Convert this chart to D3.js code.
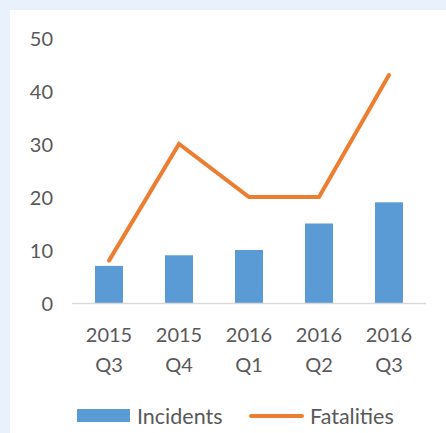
<!DOCTYPE html>
<html>
<head>
<meta charset="utf-8">
<script src="https://cdn.jsdelivr.net/npm/d3@7"></script>
<style>
  body { margin: 0; background: #fff; }
  text { font-family: Lato, "Open Sans", sans-serif; fill: #595959; }
</style>
</head>
<body>
<div id="chart"></div>
<script>
var years = ["2015", "2015", "2016", "2016", "2016"],
    quarters = ["Q3", "Q4", "Q1", "Q2", "Q3"],
    incidents = [7, 9, 10, 15, 19],
    fatalities = [8, 30, 20, 20, 43],
    yTicks = [0, 10, 20, 30, 40, 50];

var width = 446,
    height = 433,
    margin = {top: 38, right: 22, bottom: 130, left: 74},
    plotW = width - margin.left - margin.right,
    plotH = height - margin.top - margin.bottom;

var idx = d3.range(years.length);

var svg = d3.select("#chart").append("svg")
    .attr("width", width)
    .attr("height", height);

// light frame on the top and left
svg.append("rect")
    .attr("width", width).attr("height", height)
    .attr("fill", "#e9f2fc");
svg.append("rect")
    .attr("x", 10).attr("y", 10)
    .attr("width", width - 10).attr("height", height - 10)
    .attr("fill", "#fff");

var x = d3.scaleBand()
    .domain(idx)
    .range([0, plotW])
    .paddingInner(0.6)
    .paddingOuter(0.3);

var y = d3.scaleLinear()
    .domain([0, 50])
    .range([plotH, 0]);

var g = svg.append("g")
    .attr("transform", "translate(" + margin.left + "," + margin.top + ")");

// y labels
g.selectAll("text.y_label")
  .data(yTicks)
  .enter().append("text")
    .attr("class", "y_label")
    .attr("x", -21)
    .attr("y", function (d) { return y(d); })
    .attr("dy", "0.38em")
    .attr("text-anchor", "end")
    .style("font-size", "20px")
    .text(function (d) { return d; });

// bars
g.selectAll("rect.bar")
  .data(incidents)
  .enter().append("rect")
    .attr("class", "bar")
    .attr("x", function (d, i) { return x(i); })
    .attr("y", function (d) { return y(d); })
    .attr("width", x.bandwidth())
    .attr("height", function (d) { return y(0) - y(d); })
    .attr("fill", "#5b9bd5");

// baseline
g.append("line")
    .attr("x1", -2).attr("x2", plotW + 2)
    .attr("y1", y(0) + 0.5).attr("y2", y(0) + 0.5)
    .style("stroke", "#d9d9d9")
    .style("stroke-width", 1.5);

// fatalities line
var line = d3.line()
    .x(function (d, i) { return x(i) + x.bandwidth() / 2; })
    .y(function (d) { return y(d); });

g.append("path")
    .datum(fatalities)
    .attr("d", line)
    .attr("fill", "none")
    .attr("stroke", "#ed7d31")
    .attr("stroke-width", 4)
    .attr("stroke-linejoin", "miter")
    .attr("stroke-linecap", "round");

// x labels, two lines
var xl = g.selectAll("text.x_label")
  .data(idx)
  .enter().append("text")
    .attr("class", "x_label")
    .attr("text-anchor", "middle")
    .style("font-size", "20px")
    .attr("transform", function (d) {
        return "translate(" + (x(d) + x.bandwidth() / 2) + "," + (plotH + 39) + ")";
    });
xl.append("tspan").attr("x", 0).text(function (d) { return years[d]; });
xl.append("tspan").attr("x", 0).attr("dy", 30).text(function (d) { return quarters[d]; });

// legend
var leg = svg.append("g").attr("transform", "translate(0,416)");
leg.append("rect")
    .attr("x", 77).attr("y", -7)
    .attr("width", 53).attr("height", 13)
    .attr("fill", "#5b9bd5");
leg.append("text")
    .attr("x", 137).attr("dy", "0.36em")
    .style("font-size", "21.5px")
    .text("Incidents");
leg.append("line")
    .attr("x1", 251).attr("x2", 302)
    .attr("y1", 0).attr("y2", 0)
    .attr("stroke", "#ed7d31")
    .attr("stroke-width", 4)
    .attr("stroke-linecap", "round");
leg.append("text")
    .attr("x", 310).attr("dy", "0.36em")
    .style("font-size", "21.5px")
    .text("Fatalities");
</script>
</body>
</html>
